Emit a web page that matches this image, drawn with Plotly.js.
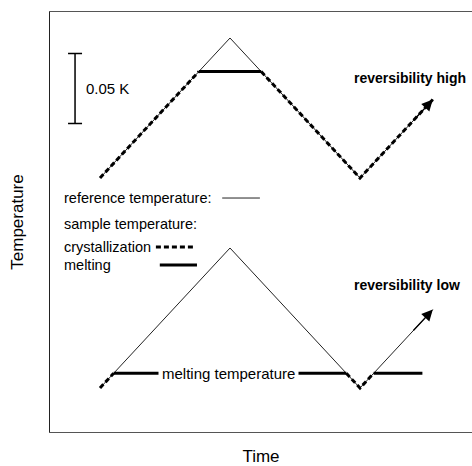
<!DOCTYPE html>
<html>
<head>
<meta charset="utf-8">
<script src="https://cdn.plot.ly/plotly-3.0.1.min.js"></script>
<style>
  html, body { margin: 0; padding: 0; background: #fff; }
  #chart { width: 472px; height: 466px; }
</style>
</head>
<body>
<div id="chart"></div>
<script>
// Temperature programme (time in arbitrary units, temperature in K)
const refTime = [0, 10, 20, 25.6];
const refHigh = [0.15, 0.25, 0.15, 0.206];   // reference, reversibility high
const refLow  = [0.0, 0.10, 0.0, 0.056];     // reference, reversibility low

// Sample temperature, reversibility high (null breaks the segments)
const highCrystTime = [0, 7.6, null, 12.4, 20, 25.6];
const highCrystTemp = [0.15, 0.226, null, 0.226, 0.15, 0.206];
const highMeltTime  = [7.6, 12.4];
const highMeltTemp  = [0.226, 0.226];

// Sample temperature, reversibility low
const lowCrystTime = [0, 1.05, null, 18.95, 20, 21.05];
const lowCrystTemp = [0.0, 0.0105, null, 0.0105, 0.0, 0.0105];
const lowMeltTime  = [1.05, 18.95, null, 21.05, 24.8];
const lowMeltTemp  = [0.0105, 0.0105, null, 0.0105, 0.0105];

// Scale bar
const scaleK = 0.05;
const scaleLabel = '0.05 K';

const FONT = 'Liberation Sans, Arial, sans-serif';
const refLine   = { color: '#222', width: 1 };
const crystLine = { color: '#000', width: 3, dash: '5px,3px' };
const meltLine  = { color: '#000', width: 3 };

const traces = [
  { x: refTime, y: refHigh, mode: 'lines', line: refLine, name: 'reference temperature' },
  { x: refTime, y: refLow,  mode: 'lines', line: refLine, name: 'reference temperature' },
  { x: highCrystTime, y: highCrystTemp, mode: 'lines', line: crystLine, name: 'crystallization' },
  { x: highMeltTime,  y: highMeltTemp,  mode: 'lines', line: meltLine,  name: 'melting' },
  { x: lowCrystTime,  y: lowCrystTemp,  mode: 'lines', line: crystLine, name: 'crystallization' },
  { x: lowMeltTime,   y: lowMeltTemp,   mode: 'lines', line: meltLine,  name: 'melting' },
  {
    x: [-1.92], y: [0.214], mode: 'markers',
    marker: { size: 1, color: 'rgba(0,0,0,0)' },
    error_y: { type: 'constant', value: scaleK / 2, width: 7, thickness: 1.5, color: '#000' },
    name: 'scale'
  }
];

const txt = (text, x, y, extra) => Object.assign({
  text: text, x: x, y: y, xref: 'x', yref: 'y', showarrow: false,
  xanchor: 'left', yanchor: 'middle',
  font: { family: FONT, size: 14.5, color: '#000' }
}, extra || {});

const bold = { size: 14, family: FONT, color: '#000' };

const arrow = (x, y, ax, ay) => ({
  text: '', x: x, y: y, ax: ax, ay: ay, xref: 'x', yref: 'y', axref: 'x', ayref: 'y',
  showarrow: true, arrowhead: 2, arrowsize: 1.7, arrowwidth: 1.3, arrowcolor: '#000', standoff: 0
});

const annotations = [
  txt(scaleLabel, -1.2, 0.2136, { font: { family: FONT, size: 15, color: '#000' } }),
  txt('<b>reversibility high</b>', 19.4, 0.2214, { font: bold }),
  txt('<b>reversibility low</b>', 19.4, 0.0736, { font: bold }),
  txt('reference temperature:', -2.9, 0.1357),
  txt('sample temperature:', -2.9, 0.1171),
  txt('crystallization', -2.9, 0.1007),
  txt('melting', -2.9, 0.0879),
  txt('melting temperature', 9.85, 0.0105, { xanchor: 'center', bgcolor: '#fff', borderpad: 3, font: { family: FONT, size: 15, color: '#000' } }),
  arrow(refTime[3], refHigh[3], 24, 0.19),
  arrow(refTime[3], refLow[3], 24, 0.04)
];

// legend swatches drawn after their labels
const shapes = [
  { type: 'line', xref: 'x', yref: 'y', x0: 9.4, x1: 12.3, y0: 0.1357, y1: 0.1357, line: { color: '#222', width: 1 } },
  { type: 'line', xref: 'x', yref: 'y', x0: 4.3, x1: 7.15, y0: 0.1007, y1: 0.1007, line: { color: '#000', width: 3, dash: '5px,3px' } },
  { type: 'line', xref: 'x', yref: 'y', x0: 4.6, x1: 7.46, y0: 0.0879, y1: 0.0879, line: { color: '#000', width: 3 } }
];

const layout = {
  width: 472, height: 466,
  margin: { l: 50, r: 0, t: 12, b: 34 },
  paper_bgcolor: '#fff', plot_bgcolor: '#fff',
  showlegend: false,
  xaxis: {
    range: [-3.846, 28.615], showgrid: false, zeroline: false, showticklabels: false, ticks: '',
    showline: true, linecolor: '#555', linewidth: 1, mirror: true,
    title: { text: 'Time', font: { family: FONT, size: 17, color: '#000' }, standoff: 20 }
  },
  yaxis: {
    range: [-0.03143, 0.26857], showgrid: false, zeroline: false, showticklabels: false, ticks: '',
    showline: true, linecolor: '#222', linewidth: 1,
    title: { text: 'Temperature', font: { family: FONT, size: 17, color: '#000' }, standoff: 21 }
  },
  annotations: annotations,
  shapes: shapes
};

Plotly.newPlot('chart', traces, layout, { staticPlot: true, displayModeBar: false });
</script>
</body>
</html>
